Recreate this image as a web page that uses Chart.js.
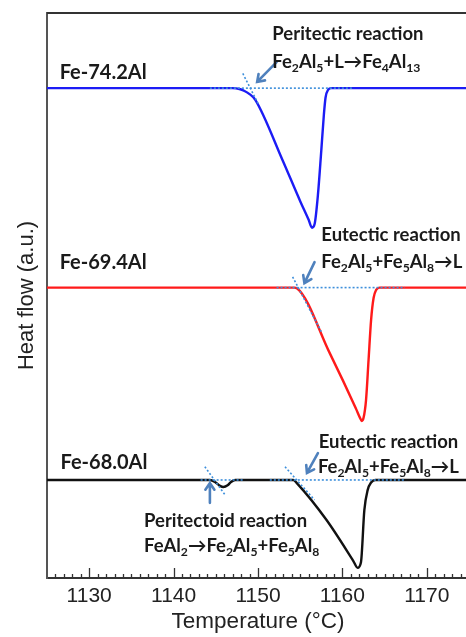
<!DOCTYPE html>
<html>
<head>
<meta charset="utf-8">
<script src="https://cdn.jsdelivr.net/npm/chart.js@4.4.0/dist/chart.umd.min.js"></script>
<style>
  html, body { margin: 0; padding: 0; background: #fff; overflow: hidden; }
  #wrap { width: 470px; height: 637px; }
</style>
</head>
<body>
<div id="wrap"><canvas id="dscChart" width="470" height="637"></canvas></div>
<script>
// DSC heating curves (heat flow in arbitrary units, offset per alloy)
const temp74 = [1125, 1147.0, 1147.8, 1148.4, 1149.0, 1149.7, 1152.9, 1155.0, 1156.0, 1156.4, 1156.7, 1157.1, 1157.5, 1157.8, 1158.0, 1158.3, 1158.7, 1175];
const heat74 = [86.7, 86.7, 86.55, 86.2, 85.65, 84.6, 74.0, 66.7, 63.4, 62.0, 62.6, 67.8, 75.7, 81.9, 85.0, 86.4, 86.7, 86.7];

const temp69 = [1125, 1154.3, 1154.6, 1158.5, 1161.6, 1162.1, 1162.3, 1162.5, 1162.8, 1163.1, 1163.4, 1163.7, 1164.0, 1164.4, 1175];
const heat69 = [51.4, 51.4, 51.3, 39.8, 30.0, 28.3, 27.8, 28.3, 31.5, 38.6, 45.7, 49.6, 51.0, 51.4, 51.4];

const temp68 = [1125, 1144.3, 1144.9, 1145.5, 1145.9, 1146.4, 1146.8, 1147.3, 1154.2, 1154.6, 1158.1, 1161.3, 1161.8, 1162.2, 1162.6, 1163.0, 1163.4, 1163.9, 1175];
const heat68 = [17.35, 17.35, 17.0, 16.3, 16.1, 16.4, 17.0, 17.35, 17.35, 16.8, 10.3, 3.0, 1.8, 2.8, 12.0, 15.6, 16.9, 17.35, 17.35];

// onset construction lines (baseline + tangent), dotted
const base74T = [1144.3, 1161.2], base74V = [86.7, 86.7];
const tan74T  = [1148.2, 1150.0], tan74V  = [89.3, 84.0];
const base69T = [1152.2, 1167.4], base69V = [51.4, 51.4];
const tan69T  = [1154.1, 1157.5], tan69V  = [53.3, 43.6];
const baseA68T = [1143.2, 1148.2], baseA68V = [17.35, 17.35];
const tanA68T  = [1143.7, 1146.1], tanA68V  = [19.7, 14.7];
const baseB68T = [1151.4, 1167.4], baseB68V = [17.35, 17.35];
const tanB68T  = [1153.2, 1156.7], tanB68V  = [19.7, 13.8];

const xTicks = [1130, 1140, 1150, 1160, 1170];

// text labels: [text, temp, heat, size]
const labels = [
  ["Fe-74.2Al", 1126.5, 89.4, 20],
  ["Peritectic reaction", 1151.7, 96.3, 18.5],
  ["Fe_2Al_5+L→Fe_4Al_13", 1151.7, 91.3, 18.5],
  ["Fe-69.4Al", 1126.5, 55.9, 20],
  ["Eutectic reaction", 1157.5, 60.7, 18.5],
  ["Fe_2Al_5+Fe_5Al_8→L", 1157.5, 55.9, 18.5],
  ["Fe-68.0Al", 1126.6, 20.5, 20],
  ["Eutectic reaction", 1157.2, 24.1, 18.5],
  ["Fe_2Al_5+Fe_5Al_8→L", 1157.1, 19.6, 18.5],
  ["Peritectoid reaction", 1136.5, 10.0, 18.5],
  ["FeAl_2→Fe_2Al_5+Fe_5Al_8", 1136.5, 5.6, 18.5]
];

// arrows: [fromT, fromV, tipT, tipV]
const arrows = [
  [1152.2, 91.3, 1149.9, 87.8],
  [1156.7, 55.9, 1155.5, 52.2],
  [1157.1, 22.1, 1155.8, 18.6],
  [1144.3, 13.3, 1144.3, 16.8]
];

function pts(t, v) {
  return t.map((x, i) => ({ x: x, y: v[i] }));
}

function curve(t, v, color) {
  return {
    data: pts(t, v),
    borderColor: color,
    borderWidth: 2.4,
    pointRadius: 0,
    cubicInterpolationMode: 'monotone'
  };
}

function guide(t, v) {
  return {
    data: pts(t, v),
    borderColor: '#3d8fdb',
    borderWidth: 1.6,
    borderDash: [2, 2],
    pointRadius: 0,
    tension: 0
  };
}

const ANN_FONT = '"Lato", "Open Sans", sans-serif';
const AXIS_FONT = '"Liberation Sans", Arial, sans-serif';

function drawRich(ctx, str, x, y, size) {
  const parts = str.split(/_(\d+)/);
  let cx = x;
  for (let i = 0; i < parts.length; i++) {
    if (!parts[i]) continue;
    if (i % 2 === 1) {
      ctx.font = 'bold ' + (size * 0.66).toFixed(1) + 'px ' + ANN_FONT;
      ctx.fillText(parts[i], cx, y + size * 0.32);
    } else {
      ctx.font = 'bold ' + size + 'px ' + ANN_FONT;
      ctx.fillText(parts[i], cx, y);
    }
    cx += ctx.measureText(parts[i]).width;
  }
}

const decorPlugin = {
  id: 'decor',
  afterDraw(chart) {
    const ctx = chart.ctx;
    const xs = chart.scales.x, ys = chart.scales.y;
    const area = chart.chartArea;
    ctx.save();
    // top border
    ctx.strokeStyle = '#333';
    ctx.lineWidth = 2;
    ctx.beginPath();
    ctx.moveTo(area.left, area.top);
    ctx.lineTo(area.right, area.top);
    ctx.stroke();
    // inward ticks
    ctx.lineWidth = 1.3;
    for (let v = 1126; v < 1175; v++) {
      const px = Math.round(xs.getPixelForValue(v)) + 0.5;
      const len = (v % 10 === 0) ? 10 : 4;
      ctx.beginPath();
      ctx.moveTo(px, area.bottom);
      ctx.lineTo(px, area.bottom - len);
      ctx.stroke();
    }
    // arrows
    ctx.strokeStyle = '#4f81bd';
    ctx.lineWidth = 2.6;
    ctx.lineCap = 'round';
    arrows.forEach(a => {
      const x0 = xs.getPixelForValue(a[0]), y0 = ys.getPixelForValue(a[1]);
      const x1 = xs.getPixelForValue(a[2]), y1 = ys.getPixelForValue(a[3]);
      const ang = Math.atan2(y1 - y0, x1 - x0);
      ctx.beginPath();
      ctx.moveTo(x0, y0);
      ctx.lineTo(x1, y1);
      ctx.moveTo(x1 - 8 * Math.cos(ang - 0.6), y1 - 8 * Math.sin(ang - 0.6));
      ctx.lineTo(x1, y1);
      ctx.lineTo(x1 - 8 * Math.cos(ang + 0.6), y1 - 8 * Math.sin(ang + 0.6));
      ctx.stroke();
    });
    // text
    ctx.fillStyle = '#1a1a1a';
    ctx.textBaseline = 'middle';
    ctx.textAlign = 'left';
    labels.forEach(l => {
      drawRich(ctx, l[0], xs.getPixelForValue(l[1]), ys.getPixelForValue(l[2]), l[3]);
    });
    ctx.restore();
  }
};

const ctx = document.getElementById('dscChart').getContext('2d');
const dscChart = new Chart(ctx, {
  type: 'line',
  data: {
    datasets: [
      guide(base74T, base74V), guide(tan74T, tan74V),
      guide(base69T, base69V), guide(tan69T, tan69V),
      guide(baseA68T, baseA68V), guide(tanA68T, tanA68V),
      guide(baseB68T, baseB68V), guide(tanB68T, tanB68V),
      curve(temp74, heat74, '#1c1cf5'),
      curve(temp69, heat69, '#ff1a1a'),
      curve(temp68, heat68, '#111111')
    ]
  },
  plugins: [decorPlugin],
  options: {
    responsive: false,
    animation: false,
    layout: { padding: { top: 13, right: 1, left: 0, bottom: 0 } },
    plugins: { legend: { display: false }, tooltip: { enabled: false } },
    scales: {
      x: {
        type: 'linear',
        min: 1125,
        max: 1175,
        afterBuildTicks: s => { s.ticks = xTicks.map(v => ({ value: v })); },
        afterFit: s => { s.height = 59; },
        grid: { display: false, drawTicks: false },
        border: { color: '#333', width: 2 },
        ticks: { color: '#222', padding: 6, callback: v => String(v), font: { family: AXIS_FONT, size: 21 } },
        title: { display: true, text: 'Temperature (°C)', color: '#222', padding: { top: 0, bottom: 1.5 }, font: { family: AXIS_FONT, size: 22.5 } }
      },
      y: {
        min: 0,
        max: 100,
        afterFit: s => { s.width = 47; },
        grid: { display: false, drawTicks: false },
        border: { color: '#555', width: 2 },
        ticks: { display: false },
        title: { display: true, text: 'Heat flow (a.u.)', color: '#222', padding: { top: 13.5, bottom: 0 }, font: { family: AXIS_FONT, size: 22 } }
      }
    }
  }
});
</script>
</body>
</html>
